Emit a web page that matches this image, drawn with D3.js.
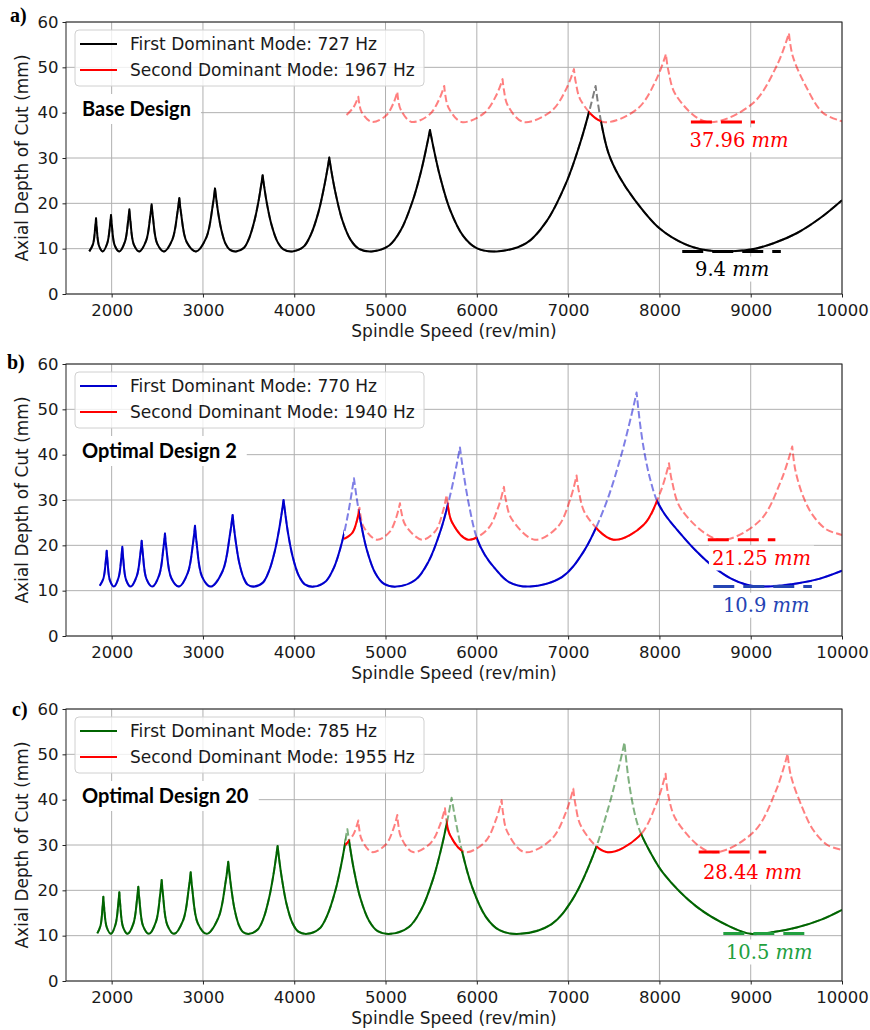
<!DOCTYPE html>
<html>
<head>
<meta charset="utf-8">
<script src="https://cdn.jsdelivr.net/npm/d3@7"></script>
<style>
  body { margin: 0; background: #fff; }
</style>
</head>
<body>
<script>
// ---- data: each mode is a list of lobes, each lobe a list of [rpm, depth mm] ----
var xTicks = [2000, 3000, 4000, 5000, 6000, 7000, 8000, 9000, 10000];
var yTicks = [0, 10, 20, 30, 40, 50, 60];

var firstModeA = [
  [[1755,9.4],[1796,11.0],[1820,14.7],[1829,16.7]],
  [[1829,16.7],[1836,14.7],[1862,10.6],[1902,9.4],[1952,11.2],[1982,15.2],[1993,17.4]],
  [[1993,17.4],[2002,15.2],[2034,10.7],[2084,9.4],[2145,11.5],[2181,16.2],[2194,18.7]],
  [[2194,18.7],[2205,16.2],[2243,10.9],[2303,9.4],[2377,11.7],[2422,17.0],[2438,19.8]],
  [[2438,19.8],[2452,17.0],[2499,11.1],[2573,9.4],[2665,12.0],[2721,18.0],[2741,21.2]],
  [[2741,21.2],[2759,18.0],[2823,11.4],[2924,9.4],[3038,12.5],[3107,19.5],[3132,23.3]],
  [[3132,23.3],[3144,21.3],[3167,17.9],[3201,14.2],[3247,11.1],[3293,9.8],[3362,9.4],[3450,10.2],[3508,12.4],[3566,16.3],[3610,20.6],[3639,24.2],[3654,26.2]],
  [[3654,26.2],[3670,23.8],[3703,19.7],[3752,15.2],[3817,11.5],[3882,9.85],[3979,9.4],[4101,10.4],[4182,13.1],[4263,17.9],[4323,23.2],[4364,27.6],[4384,30.1]],
  [[4384,30.1],[4407,27.1],[4454,22.1],[4523,16.5],[4616,12.0],[4709,9.96],[4848,9.4],[5040,10.7],[5168,14.1],[5295,20.4],[5391,27.2],[5455,33.0],[5487,36.2]],
  [[5487,36.2],[5524,32.4],[5597,25.9],[5706,18.6],[5852,12.75],[5998,10.1],[6217,9.4],[6542,11.2],[6759,15.9],[6976,24.4],[7138,33.7],[7247,41.5],[7301,45.9]],
  [[7301,45.9],[7350,39.2],[7440,31.2],[7560,25.9],[7721,21.0],[8000,14.5],[8280,11.0],[8500,9.7],[8700,9.4],[9000,9.8],[9250,11.2],[9503,13.4],[9758,16.7],[10000,20.7]]
];
var secondModeA = [
  [[4573,39.5],[4650,41.2],[4702,43.5]],
  [[4702,43.5],[4711,42.2],[4739,40.1],[4848,37.96],[5003,39.3],[5087,42.1],[5129,44.6]],
  [[5129,44.6],[5138,43.0],[5168,40.6],[5286,37.96],[5482,39.6],[5589,43.0],[5643,45.9]],
  [[5643,45.9],[5654,44.0],[5690,41.1],[5833,37.96],[6080,39.9],[6215,43.9],[6282,47.4]],
  [[6282,47.4],[6296,45.1],[6339,41.6],[6508,37.96],[6814,40.3],[6981,45.3],[7064,49.6]],
  [[7064,49.6],[7083,46.8],[7144,42.5],[7385,37.96],[7762,40.9],[7968,47.4],[8071,52.9]],
  [[8071,52.9],[8098,49.3],[8183,43.8],[8520,37.96],[9014,41.9],[9284,50.3],[9419,57.5]],
  [[9419,57.5],[9460,52.5],[9600,46.0],[9790,40.0],[10000,38.1]]
];

var firstModeB = [
  [[1870,11.1],[1910,12.7],[1936,16.6],[1946,18.8]],
  [[1946,18.8],[1954,16.7],[1982,12.2],[2026,10.9],[2076,12.9],[2106,17.3],[2117,19.7]],
  [[2117,19.7],[2126,17.3],[2158,12.4],[2208,10.9],[2275,13.2],[2315,18.2],[2329,21.0]],
  [[2329,21.0],[2341,18.3],[2381,12.6],[2445,10.9],[2522,13.5],[2567,19.4],[2584,22.6]],
  [[2584,22.6],[2599,19.4],[2653,12.8],[2738,10.9],[2834,13.9],[2892,20.6],[2913,24.3]],
  [[2913,24.3],[2930,20.7],[2990,13.1],[3085,10.9],[3217,14.4],[3296,22.4],[3325,26.7]],
  [[3325,26.7],[3337,24.4],[3361,20.6],[3396,16.3],[3444,12.9],[3491,11.3],[3562,10.9],[3658,11.8],[3723,14.3],[3787,18.7],[3835,23.6],[3867,27.7],[3883,30.0]],
  [[3883,30.0],[3900,27.3],[3933,22.6],[3983,17.5],[4050,13.3],[4116,11.4],[4216,10.9],[4347,12.1],[4435,15.1],[4523,20.7],[4588,26.8],[4632,31.9],[4654,34.8]],
  [[4654,34.8],[4677,31.4],[4724,25.6],[4794,19.1],[4887,13.9],[4980,11.55],[5120,10.9],[5329,12.4],[5468,16.3],[5607,23.5],[5711,31.3],[5780,37.9],[5815,41.6]],
  [[5815,41.6],[5850,36.5],[5915,28.8],[6000,21.6],[6090,17.8],[6198,14.9],[6352,11.9],[6582,10.9],[6932,13.0],[7166,18.5],[7400,28.45],[7575,39.4],[7692,48.6],[7750,53.7]],
  [[7750,53.7],[7790,46.5],[7840,40.0],[7900,34.5],[7970,30.0],[8060,26.8],[8225,22.7],[8400,18.8],[8590,15.3],[8780,12.7],[8956,11.3],[9100,10.9],[9503,11.6],[9750,12.6],[10000,14.4]]
];
var secondModeB = [
  [[4545,21.4],[4638,22.8],[4690,25.7],[4715,28.3]],
  [[4715,28.3],[4726,26.6],[4762,24.0],[4902,21.25],[5043,22.9],[5120,26.3],[5158,29.3]],
  [[5158,29.3],[5173,27.4],[5219,24.4],[5400,21.25],[5548,23.2],[5629,27.5],[5669,31.1]],
  [[5669,31.1],[5683,28.7],[5728,25.1],[5903,21.25],[6120,23.6],[6238,28.6],[6297,32.9]],
  [[6297,32.9],[6317,30.1],[6382,25.8],[6636,21.25],[6887,24.1],[7024,30.2],[7093,35.4]],
  [[7093,35.4],[7117,32.0],[7194,26.8],[7497,21.25],[7831,24.6],[8014,31.9],[8105,38.1]],
  [[8105,38.1],[8138,34.1],[8244,27.8],[8660,21.25],[9097,25.4],[9331,34.2],[9455,41.8]],
  [[9455,41.8],[9490,36.5],[9580,30.5],[9685,26.5],[9830,23.5],[10000,22.3]]
];

var firstModeC = [
  [[1843,10.5],[1878,12.2],[1901,16.4],[1909,18.6]],
  [[1909,18.6],[1917,16.4],[1947,11.8],[1993,10.4],[2043,12.5],[2073,17.1],[2084,19.6]],
  [[2084,19.6],[2093,17.1],[2125,11.9],[2175,10.4],[2239,12.7],[2278,18.0],[2292,20.8]],
  [[2292,20.8],[2304,18.0],[2345,12.1],[2409,10.4],[2486,13.1],[2531,19.0],[2548,22.3]],
  [[2548,22.3],[2562,19.1],[2609,12.4],[2683,10.4],[2784,13.45],[2844,20.3],[2866,24.0]],
  [[2866,24.0],[2883,20.3],[2944,12.7],[3040,10.4],[3170,14.0],[3249,21.95],[3277,26.3]],
  [[3277,26.3],[3289,24.0],[3312,20.2],[3346,15.85],[3392,12.4],[3438,10.8],[3507,10.4],[3600,11.35],[3663,13.8],[3725,18.35],[3771,23.3],[3802,27.5],[3818,29.8]],
  [[3818,29.8],[3834,27.0],[3867,22.3],[3915,17.05],[3980,12.8],[4045,10.9],[4142,10.4],[4274,11.5],[4362,14.5],[4450,19.9],[4516,25.8],[4560,30.7],[4582,33.5]],
  [[4582,33.5],[4606,30.2],[4653,24.6],[4724,18.3],[4819,13.3],[4914,11.0],[5056,10.4],[5256,11.9],[5390,15.7],[5524,22.7],[5624,30.4],[5691,36.8],[5724,40.4]],
  [[5724,40.4],[5761,36.1],[5836,28.8],[5949,20.7],[6099,14.15],[6248,11.2],[6473,10.4],[6816,12.5],[7045,17.9],[7274,27.7],[7445,38.5],[7560,47.5],[7617,52.6]],
  [[7617,52.6],[7655,45.5],[7700,39.8],[7750,35.3],[7796,32.6],[7900,28.4],[8042,23.8],[8407,16.4],[8773,12.0],[9000,10.4],[9250,10.8],[9503,11.8],[9780,13.6],[10000,15.7]]
];
var secondModeC = [
  [[4560,30.0],[4650,32.4],[4702,35.4]],
  [[4702,35.4],[4711,33.7],[4739,31.2],[4850,28.44],[5003,30.1],[5087,33.6],[5129,36.6]],
  [[5129,36.6],[5139,34.6],[5172,31.6],[5300,28.44],[5493,30.4],[5598,34.5],[5651,38.1]],
  [[5651,38.1],[5664,35.8],[5706,32.2],[5870,28.44],[6091,30.7],[6212,35.7],[6272,39.9]],
  [[6272,39.9],[6287,37.1],[6334,32.9],[6520,28.44],[6815,31.2],[6976,37.2],[7057,42.4]],
  [[7057,42.4],[7079,39.1],[7148,33.9],[7420,28.44],[7776,31.9],[7971,39.3],[8068,45.7]],
  [[8068,45.7],[8098,40.9],[8194,35.2],[8570,28.44],[9029,32.8],[9279,42.1],[9404,50.1]],
  [[9404,50.1],[9440,45.3],[9560,38.5],[9685,33.3],[9840,30.0],[10000,28.9]]
];

// minimum depths written on each panel: [second mode, first mode]
var minDepths = [[37.96, 9.4], [21.25, 10.9], [28.44, 10.5]];
var firstHz = ["727", "770", "785"];
var secondHz = ["1967", "1940", "1955"];
var designNames = ["Base Design", "Optimal Design 2", "Optimal Design 20"];
var panelLetters = ["a)", "b)", "c)"];

// ---- layout / style ----
var W = 870, H = 1030, PH = 272;
var TOPS = [22, 364, 709];
var LABEL_POS = [[10, 22], [7, 369], [12, 716]];
var firstColors = ["#000000", "mediumblue", "darkgreen"];
var noteColors = ["#000000", "#2444b4", "#22a03f"];
// note positions in data units: line from/to, text left x, text centre y
var notePos = [
  [{from: 8345, to: 9046, tx: 8330, ty: 34.0}, {from: 8250, to: 9330, tx: 8390, ty: 5.5}],
  [{from: 8530, to: 9270, tx: 8575, ty: 17.2}, {from: 8590, to: 9670, tx: 8696, ty: 6.8}],
  [{from: 8430, to: 9170, tx: 8477, ty: 24.0}, {from: 8700, to: 9600, tx: 8729, ty: 6.4}]
];

var panels = [
  {first: firstModeA, second: secondModeA},
  {first: firstModeB, second: secondModeB},
  {first: firstModeC, second: secondModeC}
];

var svg = d3.select("body").append("svg")
    .attr("width", W)
    .attr("height", H)
    .style("font-family", "DejaVu Sans");
svg.append("rect").attr("width", W).attr("height", H).attr("fill", "#fff");

var x = d3.scaleLinear().domain([1500, 10000]).range([66, 842]);
var y = d3.scaleLinear().domain([0, 60]).range([PH, 0]);

var curve = d3.curveCatmullRom.alpha(0.5);
var line = d3.line().x(function(d){ return x(d[0]); }).y(function(d){ return y(d[1]); }).curve(curve);
var under = d3.area().x(function(d){ return x(d[0]); }).y0(PH + 20).y1(function(d){ return y(d[1]); }).curve(curve);

// one continuous path through all lobes (keeps the cusps sharp, dashes continuous)
function joined(lobes) {
  return lobes.map(function(l){ return line(l); }).join("").replace(/M/g, "L").replace(/^L/, "M");
}

panels.forEach(function(p, i) {
  var g = svg.append("g").attr("transform", "translate(0," + TOPS[i] + ")");
  var defs = g.append("defs");

  defs.append("clipPath").attr("id", "plot" + i)
    .append("rect").attr("x", x(1500)).attr("y", 0).attr("width", x(10000) - x(1500)).attr("height", PH);

  // first mode is the limit where it lies under the second one
  var cf = defs.append("clipPath").attr("id", "cf" + i);
  cf.append("rect").attr("x", 0).attr("y", -20).attr("width", x(p.second[0][0][0])).attr("height", PH + 40);
  cf.selectAll("path").data(p.second).join("path").attr("d", under);
  var cs = defs.append("clipPath").attr("id", "cs" + i);
  cs.selectAll("path").data(p.first).join("path").attr("d", under);

  // grid
  g.append("g").selectAll("line").data(xTicks).join("line")
    .attr("x1", function(d){ return x(d); }).attr("x2", function(d){ return x(d); })
    .attr("y1", 0).attr("y2", PH)
    .attr("stroke", "#b0b0b0").attr("stroke-width", 1);
  g.append("g").selectAll("line").data(yTicks).join("line")
    .attr("x1", x(1500)).attr("x2", x(10000))
    .attr("y1", function(d){ return y(d); }).attr("y2", function(d){ return y(d); })
    .attr("stroke", "#b0b0b0").attr("stroke-width", 1);

  var curves = g.append("g").attr("clip-path", "url(#plot" + i + ")");
  curves.append("path").attr("d", joined(p.first))
    .attr("fill", "none").attr("stroke", firstColors[i]).attr("stroke-opacity", 0.5)
    .attr("stroke-width", 2).attr("stroke-dasharray", "7.4,3.2").attr("stroke-linejoin", "round");
  curves.append("path").attr("d", joined(p.second))
    .attr("fill", "none").attr("stroke", "red").attr("stroke-opacity", 0.5)
    .attr("stroke-width", 2).attr("stroke-dasharray", "7.4,3.2").attr("stroke-linejoin", "round");
  curves.append("g").attr("clip-path", "url(#cf" + i + ")").append("path")
    .attr("d", joined(p.first))
    .attr("fill", "none").attr("stroke", firstColors[i]).attr("stroke-width", 2).attr("stroke-linejoin", "round");
  curves.append("g").attr("clip-path", "url(#cs" + i + ")").append("path")
    .attr("d", joined(p.second))
    .attr("fill", "none").attr("stroke", "red").attr("stroke-width", 2).attr("stroke-linejoin", "round");

  // minimum depth notes
  [0, 1].forEach(function(k) {
    var pos = notePos[i][k];
    var col = k === 0 ? "#ff0000" : noteColors[i];
    var v = minDepths[i][k];
    var t = g.append("text")
      .attr("x", x(pos.tx)).attr("y", y(pos.ty))
      .attr("dominant-baseline", "central")
      .style("font-family", "DejaVu Serif").style("font-size", "19.5px")
      .attr("fill", col);
    t.append("tspan").text(String(v));
    t.append("tspan").attr("font-style", "italic").text(" mm");
    var bb = t.node().getBBox();
    g.insert("rect", function(){ return t.node(); })
      .attr("x", bb.x - 3).attr("y", bb.y - 1).attr("width", bb.width + 6).attr("height", bb.height + 2)
      .attr("fill", "#fff");
    g.append("line")
      .attr("x1", x(pos.from)).attr("x2", x(pos.to))
      .attr("y1", y(v)).attr("y2", y(v))
      .attr("stroke", col).attr("stroke-width", 3).attr("stroke-dasharray", "21,9");
  });

  // legend
  var lg = g.append("g");
  lg.append("rect").attr("x", 75).attr("y", 8).attr("width", 349).attr("height", 56).attr("rx", 4)
    .attr("fill", "#fff").attr("fill-opacity", 0.8).attr("stroke", "#d0d0d0");
  var entries = [
    {c: firstColors[i], t: "First Dominant Mode: " + firstHz[i] + " Hz"},
    {c: "red", t: "Second Dominant Mode: " + secondHz[i] + " Hz"}
  ];
  entries.forEach(function(e, k) {
    var ly = 22 + k * 26;
    lg.append("line").attr("x1", 80).attr("x2", 117).attr("y1", ly).attr("y2", ly)
      .attr("stroke", e.c).attr("stroke-width", 2);
    lg.append("text").attr("x", 130).attr("y", ly).attr("dominant-baseline", "central")
      .style("font-size", "17px").attr("fill", "#1a1a1a").text(e.t);
  });

  // design name
  var dn = g.append("text").attr("x", 82).attr("y", 86).attr("dominant-baseline", "central")
    .style("font-family", "Lato").style("font-weight", "bold").style("font-size", "20px")
    .attr("fill", "#000").text(designNames[i]);
  var db = dn.node().getBBox();
  g.insert("rect", function(){ return dn.node(); })
    .attr("x", 67).attr("y", 72).attr("width", db.x + db.width + 10 - 67).attr("height", 30)
    .attr("fill", "#fff");

  // spines
  g.append("rect").attr("x", x(1500)).attr("y", 0).attr("width", x(10000) - x(1500)).attr("height", PH)
    .attr("fill", "none").attr("stroke", "#222").attr("stroke-width", 1);

  // ticks + labels
  var ax = g.append("g").attr("transform", "translate(0," + PH + ")")
    .call(d3.axisBottom(x).tickValues(xTicks).tickSize(3.5).tickPadding(7).tickFormat(d3.format("d")));
  var ay = g.append("g").attr("transform", "translate(" + x(1500) + ",0)")
    .call(d3.axisLeft(y).tickValues(yTicks).tickSize(3.5).tickPadding(4).tickFormat(d3.format("d")));
  [ax, ay].forEach(function(a) {
    a.select(".domain").remove();
    a.selectAll("line").attr("stroke", "#222");
    a.selectAll("text").style("font-family", "DejaVu Sans").style("font-size", "16.5px").attr("fill", "#1a1a1a");
  });

  g.append("text").attr("x", (x(1500) + x(10000)) / 2).attr("y", PH + 43)
    .attr("text-anchor", "middle").style("font-size", "17px").attr("fill", "#1a1a1a")
    .text("Spindle Speed (rev/min)");
  g.append("text").attr("transform", "translate(22," + (PH / 2) + ") rotate(-90)")
    .attr("text-anchor", "middle").attr("dominant-baseline", "central")
    .style("font-size", "17px").attr("fill", "#1a1a1a")
    .text("Axial Depth of Cut (mm)");

  svg.append("text").attr("x", LABEL_POS[i][0]).attr("y", LABEL_POS[i][1])
    .style("font-family", "Liberation Serif").style("font-weight", "bold").style("font-size", "20px")
    .attr("fill", "#000").text(panelLetters[i]);
});
</script>
</body>
</html>
